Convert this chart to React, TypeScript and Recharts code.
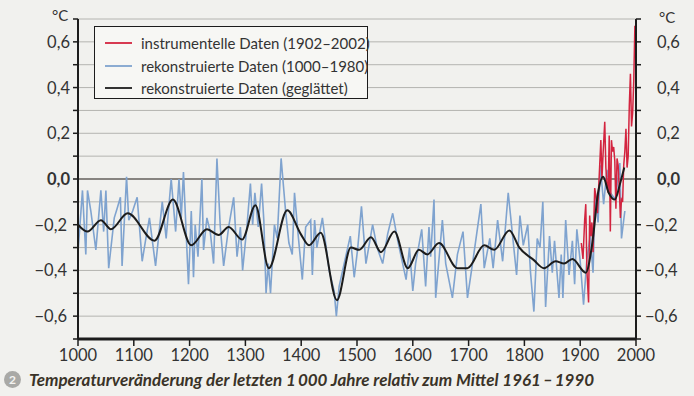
import React from 'react';
import {
  LineChart,
  Line,
  XAxis,
  YAxis,
  CartesianGrid,
  ReferenceLine,
  Legend,
} from 'recharts';

const BLUE = '#7fa3cf';
const RED = '#d3243f';
const INK = '#1c1c1c';
const TEXT = '#333333';
const BG = '#f1f1ee';
const FONT = 'Lato, "Open Sans", sans-serif';

// rekonstruierte Daten (1000–1980)
const reconYears = [
  1000, 1008, 1014, 1017, 1023, 1032, 1041, 1046, 1050, 1055, 1065, 1070, 1076, 1079, 1087, 1091, 1098,
  1106, 1115, 1121, 1128, 1139, 1151, 1158, 1167, 1175, 1181, 1185, 1189, 1195, 1198, 1203, 1207, 1210,
  1215, 1222, 1225, 1231, 1237, 1243, 1249, 1255, 1261, 1270, 1279, 1285, 1291, 1295, 1303, 1309, 1313,
  1317, 1323, 1329, 1333, 1337, 1341, 1345, 1352, 1357, 1364, 1372, 1378, 1384, 1388, 1394, 1402, 1408,
  1417, 1420, 1424, 1428, 1438, 1450, 1459, 1463, 1468, 1477, 1488, 1495, 1501, 1508, 1516, 1528, 1536,
  1546, 1555, 1564, 1573, 1588, 1594, 1600, 1605, 1616, 1623, 1629, 1632, 1638, 1641, 1653, 1659, 1671,
  1680, 1690, 1698, 1707, 1722, 1728, 1738, 1744, 1752, 1761, 1771, 1786, 1792, 1798, 1806, 1811, 1817,
  1823, 1828, 1833, 1838, 1845, 1850, 1854, 1862, 1866, 1869, 1874, 1880, 1886, 1890, 1894, 1900, 1906,
  1912, 1918, 1923, 1927, 1932, 1936, 1942, 1948, 1954, 1963, 1971, 1974, 1980,
];
const reconValues = [
  -0.32, -0.05, -0.33, -0.05, -0.14, -0.31, -0.05, -0.23, -0.05, -0.39, -0.17, -0.13, -0.08, -0.38, 0.01, -0.18, -0.14,
  -0.08, -0.36, -0.27, -0.17, -0.38, -0.1, -0.26, 0.0, -0.23, 0.0, -0.17, 0.03, -0.3, -0.46, -0.14, -0.43, -0.2,
  -0.34, 0.0, -0.31, -0.17, -0.23, -0.37, 0.09, -0.21, -0.38, -0.21, -0.08, -0.34, -0.21, -0.4, -0.2, -0.02, -0.2,
  -0.06, -0.21, -0.02, -0.18, -0.5, -0.37, -0.5, -0.2, -0.26, 0.09, -0.14, -0.28, -0.33, -0.06, -0.23, -0.44, -0.21,
  -0.18, -0.42, -0.18, -0.3, -0.17, -0.4, -0.49, -0.6, -0.47, -0.37, -0.25, -0.43, -0.31, -0.12, -0.37, -0.2, -0.3,
  -0.37, -0.24, -0.15, -0.27, -0.44, -0.3, -0.49, -0.37, -0.22, -0.47, -0.21, -0.34, -0.09, -0.52, -0.18, -0.37, -0.52,
  -0.33, -0.23, -0.52, -0.37, -0.11, -0.39, -0.26, -0.39, -0.18, -0.36, -0.06, -0.42, -0.16, -0.29, -0.2, -0.41, -0.58,
  -0.26, -0.3, -0.1, -0.56, -0.25, -0.41, -0.27, -0.52, -0.33, -0.52, -0.18, -0.42, -0.27, -0.46, -0.22, -0.36, -0.55,
  -0.35, -0.25, -0.41, -0.06, -0.19, 0.06, -0.11, 0.04, -0.06, -0.09, 0.07, -0.26, -0.14,
];

// instrumentelle Daten (1902–2002)
const instrYears = [
  1902, 1905, 1908, 1910, 1912, 1915, 1917, 1919, 1921, 1923, 1926, 1929, 1931, 1934, 1937, 1939, 1941,
  1944, 1946, 1948, 1950, 1952, 1954, 1956, 1958, 1960, 1962, 1964, 1966, 1968, 1970, 1972, 1974, 1976,
  1978, 1980, 1982, 1984, 1986, 1988, 1990, 1992, 1994, 1996, 1998, 2000, 2002,
];
const instrValues = [
  -0.28, -0.35, -0.18, -0.11, -0.4, -0.54, -0.16, -0.25, -0.19, -0.32, -0.04, -0.09, -0.15, 0.01, 0.17, 0.0, 0.11,
  0.25, 0.05, -0.03, -0.06, 0.19, -0.23, 0.17, 0.12, 0.14, 0.08, -0.13, 0.09, 0.06, -0.04, -0.17, -0.09, -0.1,
  0.06, 0.12, 0.22, 0.05, 0.1, 0.32, 0.46, 0.23, 0.29, 0.43, 0.67, 0.53, 0.62,
];

// rekonstruierte Daten (geglättet)
const smoothYears = [
  1000, 1017, 1041, 1059, 1089, 1137, 1170, 1203, 1231, 1252, 1270, 1294, 1318, 1342, 1375, 1399, 1414,
  1435, 1464, 1489, 1504, 1525, 1543, 1567, 1591, 1611, 1626, 1647, 1680, 1698, 1728, 1746, 1773, 1791,
  1817, 1835, 1856, 1871, 1886, 1910, 1922, 1932, 1941, 1951, 1962, 1972, 1979,
];
const smoothValues = [
  -0.2, -0.23, -0.18, -0.22, -0.15, -0.27, -0.09, -0.29, -0.22, -0.245, -0.21, -0.265, -0.115, -0.39, -0.137, -0.24, -0.29,
  -0.235, -0.53, -0.3, -0.31, -0.255, -0.32, -0.23, -0.39, -0.31, -0.33, -0.28, -0.39, -0.39, -0.29, -0.31, -0.225, -0.3,
  -0.355, -0.39, -0.36, -0.37, -0.35, -0.41, -0.275, -0.06, 0.01, -0.06, -0.09, -0.015, 0.05,
];

const xTicks = [1000, 1100, 1200, 1300, 1400, 1500, 1600, 1700, 1800, 1900, 2000];
const yTicks = [-0.7, -0.6, -0.5, -0.4, -0.3, -0.2, -0.1, 0, 0.1, 0.2, 0.3, 0.4, 0.5, 0.6, 0.7];

const legendItems = [
  { label: 'instrumentelle Daten (1902\u20132002)', color: RED },
  { label: 'rekonstruierte Daten (1000\u20131980)', color: BLUE },
  { label: 'rekonstruierte Daten (geglättet)', color: INK },
];

const toRows = (years: number[], values: number[]) => years.map((year, i) => ({ year, value: values[i] }));
const recon = toRows(reconYears, reconValues);
const instr = toRows(instrYears, instrValues);
const smooth = toRows(smoothYears, smoothValues);

function fmt(k: number): string {
  const s = (Math.abs(k) / 10).toFixed(1).replace('.', ',');
  return k < 0 ? `\u2212${s}` : s;
}

function LeftTick({ x, y, payload }: any) {
  const k = Math.round(payload.value * 10);
  if (k % 2 !== 0 || Math.abs(k) > 6) return null;
  return (
    <text x={x} y={y} dy={6} dx={k < 0 ? -3 : 0} textAnchor="end" fontSize={16.5} fontFamily={FONT}
      fontWeight={k === 0 ? 700 : 400} fill={TEXT}>
      {fmt(k)}
    </text>
  );
}

function RightTick({ x, y, payload }: any) {
  const k = Math.round(payload.value * 10);
  if (k % 2 !== 0 || Math.abs(k) > 6) return null;
  return (
    <text x={x} y={y} dy={6} dx={k < 0 ? 0 : 12} textAnchor="start" fontSize={16.5} fontFamily={FONT}
      fontWeight={k === 0 ? 700 : 400} fill={TEXT}>
      {fmt(k)}
    </text>
  );
}

function LegendBox() {
  return (
    <div style={{
      width: 274, height: 73, border: `1.3px solid ${INK}`, background: '#f7f7f4',
      fontFamily: FONT, fontSize: 15, color: TEXT, padding: '5px 0 0 10px', boxSizing: 'border-box',
    }}>
      {legendItems.map((it) => (
        <div key={it.label} style={{ display: 'flex', alignItems: 'center', height: 22.5 }}>
          <svg width={27} height={4} style={{ marginRight: 9, flexShrink: 0 }}>
            <line x1={0} x2={27} y1={2} y2={2} stroke={it.color} strokeWidth={1.8} />
          </svg>
          <span style={{ whiteSpace: 'nowrap' }}>{it.label}</span>
        </div>
      ))}
    </div>
  );
}

export default function App() {
  return (
    <div style={{ position: 'absolute', left: 0, top: 0, width: 694, height: 396, background: BG, overflow: 'hidden' }}>
      <LineChart width={694} height={396} margin={{ top: 19, right: 0, bottom: 27, left: 0 }}>
        <CartesianGrid vertical={false} stroke="#b4b4b0" strokeWidth={1} />
        <ReferenceLine y={0} stroke="#6e6a66" strokeWidth={1.3} />
        <XAxis
          type="number"
          dataKey="year"
          domain={[1000, 2000]}
          ticks={xTicks}
          allowDataOverflow
          height={30}
          tickSize={7}
          tickMargin={3}
          axisLine={{ stroke: INK, strokeWidth: 3 }}
          tickLine={{ stroke: INK, strokeWidth: 1.5 }}
          tick={{ fontSize: 16.5, fill: TEXT, fontFamily: FONT }}
        />
        <YAxis
          type="number"
          domain={[-0.7, 0.7]}
          ticks={yTicks}
          interval={0}
          allowDataOverflow
          width={78}
          tickSize={5}
          tickMargin={3}
          axisLine={{ stroke: INK, strokeWidth: 2 }}
          tickLine={{ stroke: INK, strokeWidth: 1.5 }}
          tick={<LeftTick />}
        />
        <YAxis
          yAxisId="r"
          orientation="right"
          type="number"
          domain={[-0.7, 0.7]}
          ticks={yTicks}
          interval={0}
          allowDataOverflow
          width={58}
          tickSize={5}
          tickMargin={4}
          axisLine={{ stroke: INK, strokeWidth: 2 }}
          tickLine={{ stroke: INK, strokeWidth: 1.5 }}
          tick={<RightTick />}
        />
        <Legend
          layout="horizontal"
          verticalAlign="middle"
          align="center"
          content={() => <LegendBox />}
          wrapperStyle={{ position: 'absolute', left: 94, top: 26, width: 274, height: 73 }}
        />
        <Line data={recon} dataKey="value" type="linear" stroke={BLUE} strokeWidth={1.6} dot={false}
          isAnimationActive={false} legendType="none" />
        <Line data={instr} dataKey="value" type="linear" stroke={RED} strokeWidth={1.5} dot={false}
          isAnimationActive={false} legendType="none" />
        <Line data={smooth} dataKey="value" type="monotone" stroke={INK} strokeWidth={2} dot={false}
          isAnimationActive={false} legendType="none" />
      </LineChart>
      <div style={{ position: 'absolute', left: 52, top: 6, fontFamily: FONT, fontSize: 15, color: TEXT }}>°C</div>
      <div style={{ position: 'absolute', left: 659, top: 8, fontFamily: FONT, fontSize: 15, color: TEXT }}>°C</div>
      <div style={{
        position: 'absolute', left: 4, top: 369, display: 'flex', alignItems: 'center',
        fontFamily: FONT, fontSize: 17, fontWeight: 700, fontStyle: 'italic', color: '#3a3328', whiteSpace: 'nowrap',
      }}>
        <span style={{
          width: 17, height: 17, borderRadius: 9, background: '#a9a9a6', color: '#f4f4f1', fontSize: 12,
          fontStyle: 'normal', display: 'inline-flex', alignItems: 'center', justifyContent: 'center', marginRight: 8,
        }}>2</span>
        <span>Temperaturveränderung der letzten 1{'\u2009'}000 Jahre relativ zum Mittel 1961{'\u2009'}–{'\u2009'}1990</span>
      </div>
    </div>
  );
}
